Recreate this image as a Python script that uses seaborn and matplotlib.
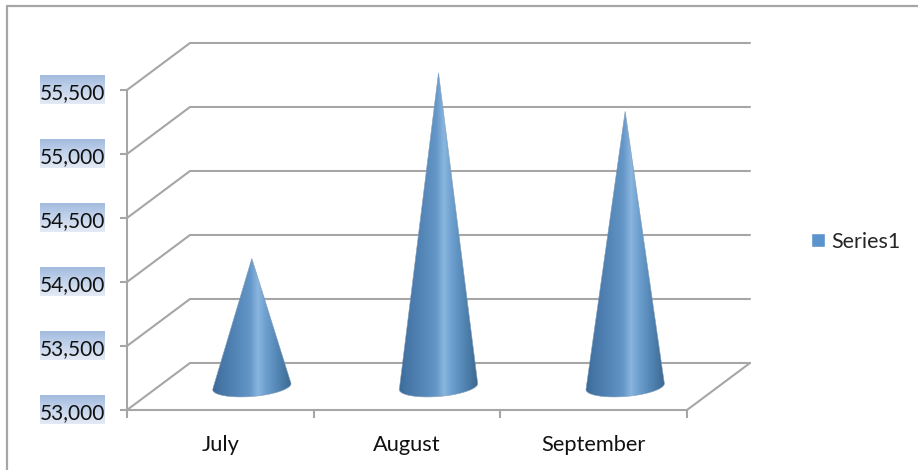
import numpy as np
import pandas as pd
import seaborn as sns
import matplotlib
matplotlib.use("Agg")
import matplotlib.pyplot as plt
from matplotlib.colors import LinearSegmentedColormap
from matplotlib.lines import Line2D
from matplotlib.patches import PathPatch
from matplotlib.path import Path
from matplotlib.ticker import FuncFormatter
from matplotlib.transforms import ScaledTranslation

months = ["July", "August", "September"]
sales = [54000, 55450, 55150]
series_name = "Series1"
value_ticks = [53000, 53500, 54000, 54500, 55000, 55500]

GRID_GREY = "#A6A6A6"
LEGEND_BLUE = "#5B93CD"
W, H = 918, 470

sns.set_theme(style="white")
plt.rcParams["font.family"] = ["Lato", "DejaVu Sans"]

fig = plt.figure(figsize=(W / 100, H / 100), dpi=100, facecolor="white")
ax = fig.add_axes([127 / W, 1 - 410 / H, 560 / W, 320 / H])
ax.patch.set_alpha(0)

frame = pd.DataFrame({"month": months, "sales": sales, "series": series_name})
sns.barplot(data=frame, x="month", y="sales", hue="series", palette=[LEGEND_BLUE],
            saturation=1, width=0.42, dodge=False, ax=ax, legend=True)
ax.set_xlim(-0.5, 2.5)
ax.set_ylim(value_ticks[0], value_ticks[-1])
ax.set_xlabel("")
ax.set_ylabel("")

# Depth of the 3D box, in data units
px_x = 3 / 560
px_y = 2500 / 320
depth_x = 63 * px_x
depth_y = 47 * px_y

# Back wall and side wall gridlines
for v in value_ticks:
    ax.plot([-0.5, -0.5 + depth_x, 2.5 + depth_x], [v, v + depth_y, v + depth_y],
            color=GRID_GREY, lw=1.5, clip_on=False, zorder=1, solid_joinstyle="miter")
ax.plot([2.5, 2.5 + depth_x], [value_ticks[0], value_ticks[0] + depth_y],
        color=GRID_GREY, lw=1.5, clip_on=False, zorder=1)

# Each bar becomes a shaded cone standing mid-way through the box depth
cone_cmap = LinearSegmentedColormap.from_list(
    "cone",
    [(0.0, "#3A6A97"), (0.10, "#4676A6"), (0.30, "#5586B8"), (0.47, "#6496C8"),
     (0.57, "#8AB6DF"), (0.66, "#6FA1D1"), (0.82, "#5486B5"), (1.0, "#3A6890")],
)
shade = np.linspace(0, 1, 256).reshape(1, -1)
for bar in ax.containers[0]:
    half = bar.get_width() / 2
    cx = bar.get_x() + half + depth_x / 2
    base = value_ticks[0] + depth_y / 2
    tip = bar.get_height() + depth_y / 2
    t = np.linspace(np.pi, 2 * np.pi, 60)
    xs = cx + half * np.cos(t)
    ys = base + 10 * px_y * np.sin(t) + 3 * px_y * np.cos(t)
    verts = np.vstack([[cx, tip], np.column_stack([xs, ys]), [cx, tip]])
    codes = [Path.MOVETO] + [Path.LINETO] * (len(verts) - 2) + [Path.CLOSEPOLY]
    outline = PathPatch(Path(verts, codes), facecolor="none", edgecolor="#7F9AB5",
                        lw=0.4, clip_on=False, zorder=3, transform=ax.transData)
    ax.add_patch(outline)
    img = ax.imshow(shade, cmap=cone_cmap, aspect="auto", zorder=2,
                    extent=[cx - half, cx + half, ys.min(), tip], interpolation="bilinear")
    img.set_clip_box(fig.bbox)
    img.set_clip_path(outline)
    bar.set_visible(False)

# Axis lines and ticks
sns.despine(ax=ax, top=True, right=True)
for side in ("left", "bottom"):
    ax.spines[side].set_color(GRID_GREY)
    ax.spines[side].set_linewidth(1.5)
ax.set_yticks(value_ticks)
ax.yaxis.set_major_formatter(FuncFormatter(lambda v, _: f"{int(v):,}"))
ax.set_xticks(range(len(months)), months)
ax.set_xticks([-0.5, 0.5, 1.5, 2.5], minor=True)
ax.tick_params(axis="x", which="major", length=0, pad=18, labelsize=15.7, labelcolor="#111111")
ax.tick_params(axis="x", which="minor", length=5.5, width=1.5, color=GRID_GREY, bottom=True)
ax.tick_params(axis="y", length=5, width=1.5, color=GRID_GREY, pad=11, labelsize=15,
               labelcolor="#111111", left=True)
nudge = ScaledTranslation(0, -1.5 / 100, fig.dpi_scale_trans)
for label in ax.get_yticklabels():
    label.set_transform(label.get_transform() + nudge)

# Highlighted backing behind the value labels
label_cmap = LinearSegmentedColormap.from_list("label", ["#A3BCE0", "#E4EBF6"])
for v in value_ticks:
    ax.imshow(np.linspace(0, 1, 64).reshape(-1, 1), cmap=label_cmap, aspect="auto",
              extent=[-87 / 560, -22 / 560, v - 14.5 * px_y, v + 14.5 * px_y],
              transform=ax.get_yaxis_transform(), clip_on=False, zorder=0, origin="upper")
ax.set_xlim(-0.5, 2.5)
ax.set_ylim(value_ticks[0], value_ticks[-1])

# Legend on the right
sns.move_legend(ax, loc="center left", bbox_to_anchor=(792 / W, 1 - 242 / H),
                bbox_transform=fig.transFigure, title=None, frameon=False,
                fontsize=15.5, handlelength=0.62, handleheight=0.62, handletextpad=0.3)

# Chart-area border along the top and left
for xs, ys in (([7, W], [6, 6]), ([7, 7], [6, H])):
    fig.add_artist(Line2D([x / W for x in xs], [1 - y / H for y in ys],
                          color=GRID_GREY, lw=1.6))

fig.savefig("out.png", dpi=100)
